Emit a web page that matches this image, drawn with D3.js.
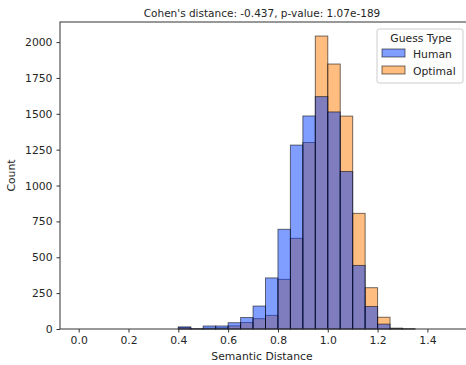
<!DOCTYPE html>
<html>
<head>
<meta charset="utf-8">
<script src="https://cdn.jsdelivr.net/npm/d3@7"></script>
<style>
  body { margin: 0; background: #fff; }
  svg text { font-family: "DejaVu Sans", sans-serif; fill: #262626; }
</style>
</head>
<body>
<div id="chart"></div>
<script>
// bin edges: 0.00 .. 1.50 step 0.05
const binStart = 0, binWidth = 0.05, nBins = 30;
const humanCounts = [0,0,0,0,0,0,0,0, 15,2,21,21,44,80,160,356,695,1282,1485,1620,1513,1098,443,157,34,3,1,0,0,0];
const optimalCounts = [0,0,0,0,0,0,0,0, 10,1,6,8,22,45,72,95,346,632,1300,2042,1847,1484,806,288,82,6,1,0,0,0];
const seriesNames = ["Human", "Optimal"];
const seriesColors = {"Human": "#023eff", "Optimal": "#ff7c00"};
const xTicks = [0.0, 0.2, 0.4, 0.6, 0.8, 1.0, 1.2, 1.4];
const yTicks = [0, 250, 500, 750, 1000, 1250, 1500, 1750, 2000];

const width = 466, height = 365;
const margin = {left: 60, right: -5, top: 22, bottom: 36};

const svg = d3.select("#chart").append("svg")
    .attr("width", width)
    .attr("height", height)

const x = d3.scaleLinear()
    .domain([-0.075, 1.575])
    .range([margin.left, width - margin.right]);

const y = d3.scaleLinear()
    .domain([0, 2140])
    .range([height - margin.bottom, margin.top]);

function bins(counts) {
  return counts.map((c, i) => ({x0: binStart + i*binWidth, x1: binStart + (i+1)*binWidth, n: c}));
}

// optimal drawn first, human layered on top
const layers = [["Optimal", optimalCounts], ["Human", humanCounts]];
layers.forEach(function(l) {
  svg.append("g")
    .selectAll("rect")
    .data(bins(l[1]))
    .enter()
    .append("rect")
      .attr("x", d => x(d.x0))
      .attr("width", d => x(d.x1) - x(d.x0))
      .attr("y", d => y(d.n))
      .attr("height", d => y(0) - y(d.n))
      .attr("fill", seriesColors[l[0]])
      .attr("fill-opacity", 0.5)
      .attr("stroke", "#000")
      .attr("stroke-opacity", 0.55)
      .attr("stroke-width", 1)
});

// frame
svg.append("rect")
    .attr("x", margin.left)
    .attr("y", margin.top)
    .attr("width", x.range()[1] - margin.left)
    .attr("height", y(0) - margin.top)
    .attr("fill", "none")
    .attr("stroke", "#333")
    .attr("stroke-width", 1)

svg.append("g")
    .attr("transform", "translate(0," + y(0) + ")")
    .call(d3.axisBottom(x).tickValues(xTicks).tickFormat(d3.format(".1f")).tickSize(3.5).tickPadding(4))
    .call(g => g.select(".domain").remove())
    .selectAll("text").style("font-size", "10.8px")

svg.append("g")
    .attr("transform", "translate(" + margin.left + ",0)")
    .call(d3.axisLeft(y).tickValues(yTicks).tickFormat(d3.format("d")).tickSize(3.5).tickPadding(4))
    .call(g => g.select(".domain").remove())
    .selectAll("text").style("font-size", "10.8px")

svg.selectAll(".tick line").attr("stroke", "#333")

svg.append("text")
    .attr("x", 262)
    .attr("y", 17)
    .attr("text-anchor", "middle")
    .style("font-size", "10.5px")
    .text("Cohen's distance: -0.437, p-value: 1.07e-189")

svg.append("text")
    .attr("x", 262)
    .attr("y", 360)
    .attr("text-anchor", "middle")
    .style("font-size", "10.8px")
    .text("Semantic Distance")

svg.append("text")
    .attr("transform", "translate(15," + ((margin.top + y(0)) / 2) + ") rotate(-90)")
    .attr("text-anchor", "middle")
    .style("font-size", "10.8px")
    .text("Count")

// legend
const lg = svg.append("g").attr("transform", "translate(377,29)");
lg.append("rect")
    .attr("width", 86).attr("height", 54).attr("rx", 2)
    .attr("fill", "#fff").attr("fill-opacity", 0.8)
    .attr("stroke", "#ccc")
lg.append("text")
    .attr("x", 44).attr("y", 13)
    .attr("text-anchor", "middle")
    .style("font-size", "10.8px")
    .text("Guess Type")
seriesNames.forEach(function(s, i) {
  lg.append("rect")
    .attr("x", 5).attr("y", 20 + i*17)
    .attr("width", 23).attr("height", 8)
    .attr("fill", seriesColors[s]).attr("fill-opacity", 0.5)
    .attr("stroke", "#000").attr("stroke-opacity", 0.55)
  lg.append("text")
    .attr("x", 36).attr("y", 29 + i*17)
    .style("font-size", "10.8px")
    .text(s)
});
</script>
</body>
</html>
